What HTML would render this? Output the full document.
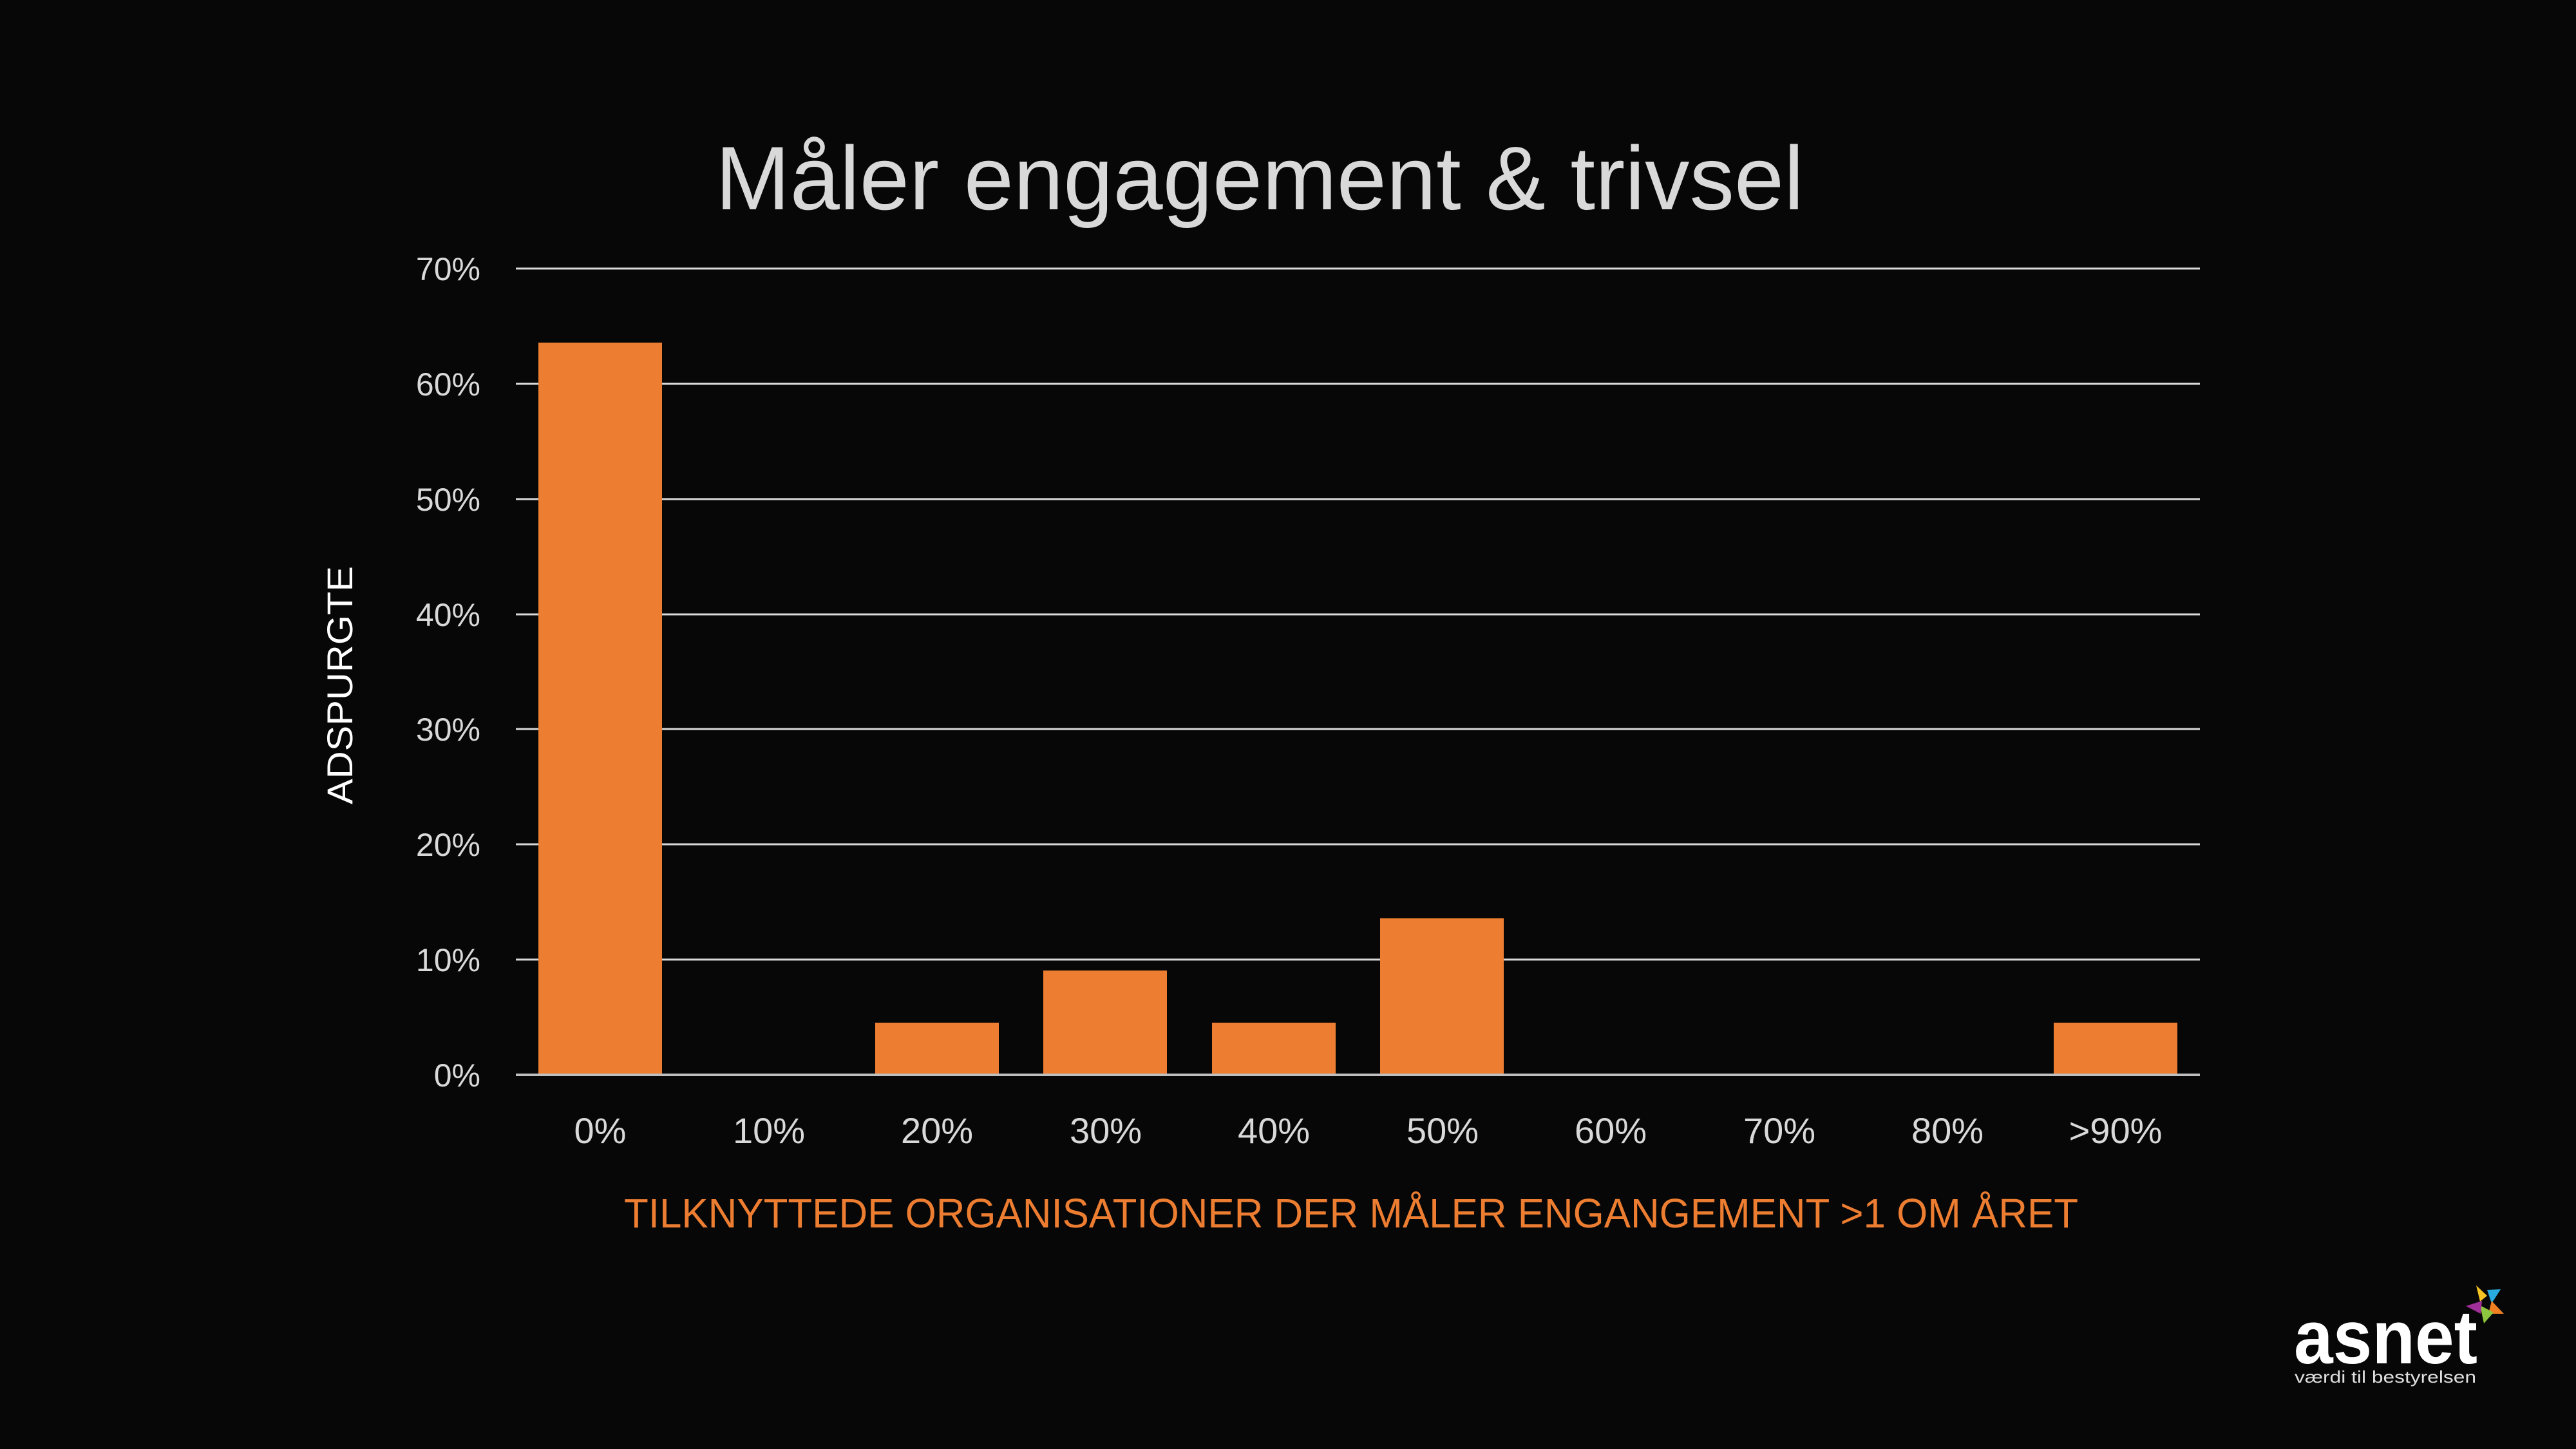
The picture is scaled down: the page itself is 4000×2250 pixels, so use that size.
<!DOCTYPE html>
<html><head><meta charset="utf-8"><style>
html,body{margin:0;padding:0;background:#070707;}
svg{display:block;}
</style></head><body>
<svg width="4000" height="2250" viewBox="0 0 4000 2250" xmlns="http://www.w3.org/2000/svg" font-family="'Liberation Sans', sans-serif">
<rect width="4000" height="2250" fill="#070707"/>
<text x="1956" y="325" font-size="140" fill="#d9d9d9" text-anchor="middle" textLength="1690" lengthAdjust="spacingAndGlyphs">Måler engagement &amp; trivsel</text>
<g stroke="#d9d9d9" stroke-width="3">
<line x1="801" y1="417" x2="3416" y2="417"/>
<line x1="801" y1="596" x2="3416" y2="596"/>
<line x1="801" y1="775" x2="3416" y2="775"/>
<line x1="801" y1="954" x2="3416" y2="954"/>
<line x1="801" y1="1132" x2="3416" y2="1132"/>
<line x1="801" y1="1311" x2="3416" y2="1311"/>
<line x1="801" y1="1490" x2="3416" y2="1490"/>
</g>
<g fill="#ed7d31">
<rect x="836" y="532" width="192" height="1137"/>
<rect x="1359" y="1588" width="192" height="81"/>
<rect x="1620" y="1507" width="192" height="162"/>
<rect x="1882" y="1588" width="192" height="81"/>
<rect x="2143" y="1426" width="192" height="243"/>
<rect x="3189" y="1588" width="192" height="81"/>
</g>
<line x1="801" y1="1669" x2="3416" y2="1669" stroke="#bfbfbf" stroke-width="4"/>
<g font-size="50" fill="#d9d9d9" text-anchor="end">
<text x="746" y="435">70%</text>
<text x="746" y="614">60%</text>
<text x="746" y="793">50%</text>
<text x="746" y="972">40%</text>
<text x="746" y="1150">30%</text>
<text x="746" y="1329">20%</text>
<text x="746" y="1508">10%</text>
<text x="746" y="1687">0%</text>
</g>
<g font-size="56" fill="#d9d9d9" text-anchor="middle">
<text x="932" y="1775">0%</text>
<text x="1194" y="1775">10%</text>
<text x="1455" y="1775">20%</text>
<text x="1717" y="1775">30%</text>
<text x="1978" y="1775">40%</text>
<text x="2240" y="1775">50%</text>
<text x="2501" y="1775">60%</text>
<text x="2763" y="1775">70%</text>
<text x="3024" y="1775">80%</text>
<text x="3285" y="1775">&gt;90%</text>
</g>
<text x="2098" y="1906" font-size="64" fill="#ed7d31" text-anchor="middle" textLength="2258" lengthAdjust="spacingAndGlyphs">TILKNYTTEDE ORGANISATIONER DER MÅLER ENGANGEMENT &gt;1 OM ÅRET</text>
<text transform="translate(547,1064) rotate(-90)" font-size="56" fill="#ffffff" text-anchor="middle" textLength="370" lengthAdjust="spacingAndGlyphs">ADSPURGTE</text>
<!-- logo -->
<text x="3562" y="2117" font-size="118" font-weight="bold" fill="#ffffff" textLength="285" lengthAdjust="spacingAndGlyphs">asnet</text>
<text x="3563" y="2147" font-size="26" fill="#e0e0e0" textLength="282" lengthAdjust="spacingAndGlyphs">værdi til bestyrelsen</text>
<polygon points="3845,1996 3862,2012 3851,2021" fill="#f5c324"/>
<polygon points="3862,2003 3883,2002 3869,2024" fill="#29abe2"/>
<polygon points="3869,2020 3888,2040 3864,2040" fill="#f07f22"/>
<polygon points="3851,2027 3872,2038 3857,2055" fill="#8dc63f"/>
<polygon points="3829,2028 3854,2020 3852,2040" fill="#a12f9a"/>
</svg>
</body></html>
